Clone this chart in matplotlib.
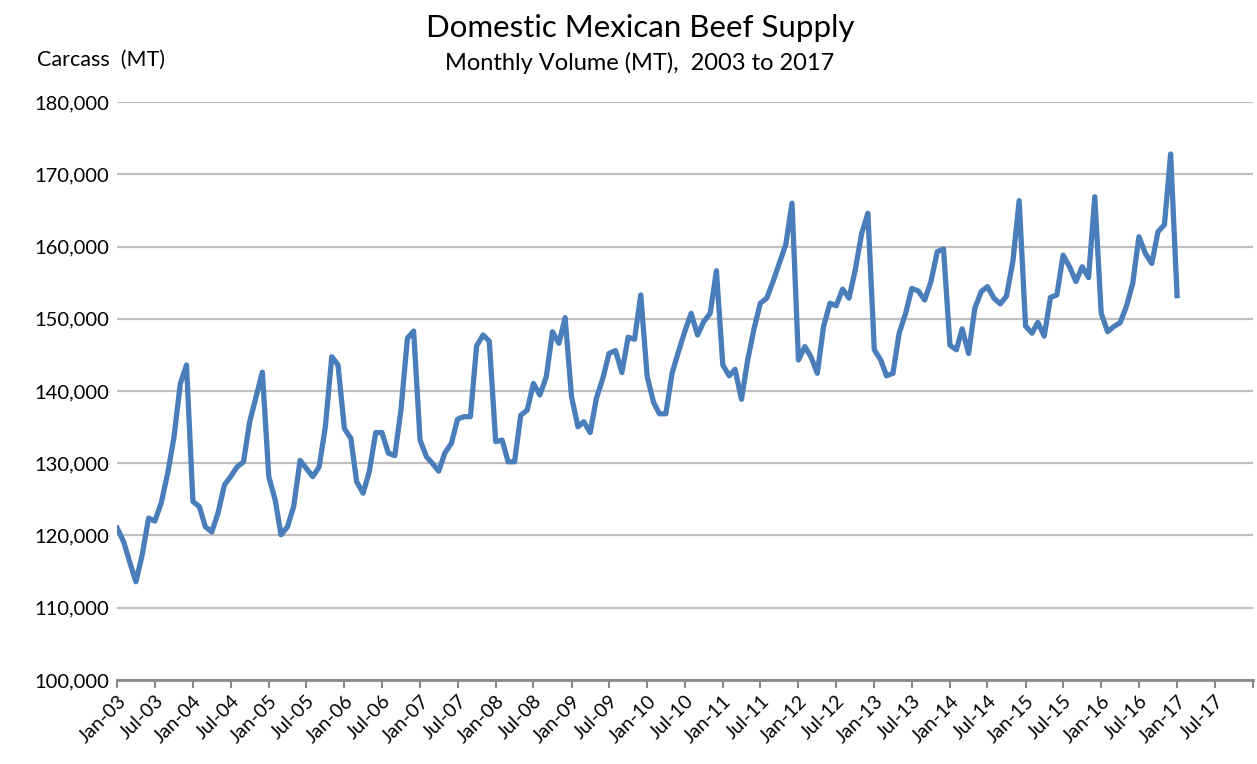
import numpy as np
import pandas as pd
import matplotlib
matplotlib.use("Agg")
import matplotlib.pyplot as plt
import matplotlib.dates as mdates
from matplotlib.ticker import FuncFormatter

plt.rcParams['font.family'] = ['Lato', 'DejaVu Sans']

# monthly carcass volume (MT), Jan-03 .. Jan-17
v2003 = [121000, 119100, 116400, 113600, 117300, 122400, 122000, 124500, 128600, 133500, 141000, 143600]
v2004 = [124700, 124000, 121200, 120500, 123100, 127000, 128150, 129500, 130200, 135750, 139200, 142600]
v2005 = [128150, 124900, 120100, 121200, 124000, 130400, 129300, 128150, 129500, 135050, 144750, 143600]
v2006 = [134800, 133450, 127450, 125850, 128850, 134250, 134250, 131400, 131050, 137400, 147300, 148300]
v2007 = [133200, 130900, 130000, 128900, 131450, 132750, 136100, 136450, 136450, 146250, 147750, 146900]
v2008 = [133000, 133200, 130200, 130200, 136650, 137350, 141050, 139450, 141950, 148200, 146600, 150150]
v2009 = [139200, 135050, 135750, 134250, 139000, 141750, 145200, 145600, 142550, 147450, 147150, 153300]
v2010 = [142000, 138400, 136850, 136850, 142450, 145450, 148200, 150750, 147750, 149600, 150750, 156650]
v2011 = [143600, 142100, 143000, 138850, 144300, 148650, 152150, 152850, 155200, 157700, 160300, 166000]
v2012 = [144300, 146150, 144750, 142450, 148900, 152150, 151800, 154100, 152850, 156750, 161800, 164600]
v2013 = [145700, 144300, 142100, 142450, 148000, 150750, 154200, 153850, 152600, 155100, 159300, 159650]
v2014 = [146350, 145700, 148600, 145200, 151450, 153750, 154450, 152850, 152050, 153150, 158000, 166350]
v2015 = [149000, 148000, 149500, 147600, 152950, 153300, 158800, 157200, 155150, 157200, 155700, 166900]
v2016 = [150750, 148200, 148900, 149450, 151650, 154900, 161350, 159050, 157650, 162050, 163000, 172800]
v2017 = [153200]

volume = (v2003 + v2004 + v2005 + v2006 + v2007 + v2008 + v2009 + v2010 +
          v2011 + v2012 + v2013 + v2014 + v2015 + v2016 + v2017)
months = pd.date_range('2003-01-01', periods=len(volume), freq='MS')

title = 'Domestic Mexican Beef Supply'
subtitle = 'Monthly Volume (MT),  2003 to 2017'
ylabel = 'Carcass  (MT)'
last_label = pd.Timestamp('2017-07-01')

fig = plt.figure(figsize=(12.57, 7.64), dpi=100)
ax = fig.add_axes([117.3/1257, 84/764, (1252.7-117.3)/1257, 578/764])

ax.plot(months, volume, color='#4A7EBB', lw=3.8, solid_joinstyle='round', zorder=3)

ax.set_ylim(100000, 180000)
ax.set_yticks(np.arange(100000, 180001, 10000))
ax.yaxis.set_major_formatter(FuncFormatter(lambda v, p: '{:,.0f}'.format(v)))
ax.set_xlim(pd.Timestamp('2003-01-01'), pd.Timestamp('2018-01-01'))
ax.xaxis.set_major_locator(mdates.MonthLocator(bymonth=[1, 7]))

def date_fmt(x, pos):
    d = mdates.num2date(x)
    if d.replace(tzinfo=None) > last_label:
        return ''  # axis ends at Jan-18 with no label
    return d.strftime('%b-%y')

ax.xaxis.set_major_formatter(FuncFormatter(date_fmt))

ax.grid(axis='y', color='#C0C0C0', lw=1.6, zorder=0)
for s in ['top', 'right', 'left']:
    ax.spines[s].set_visible(False)
ax.spines['bottom'].set_color('#898989')
ax.spines['bottom'].set_linewidth(2)
ax.spines['bottom'].set_zorder(4)

ax.tick_params(axis='y', length=0, pad=6, labelsize=14.5, labelcolor='#000000')
ax.tick_params(axis='x', length=6, width=1.5, color='#898989', pad=3,
               labelsize=14, labelcolor='#000000')
for lab in ax.get_xticklabels():
    lab.set_rotation(45)
    lab.set_ha('right')
    lab.set_rotation_mode('anchor')

fig.text(0.509, 0.963, title, ha='center', va='center', fontsize=22.5)
fig.text(0.509, 0.918, subtitle, ha='center', va='center', fontsize=17)
fig.text(37/1257, 0.921, ylabel, ha='left', va='center', fontsize=15.5)

fig.savefig('out.png', dpi=100)
